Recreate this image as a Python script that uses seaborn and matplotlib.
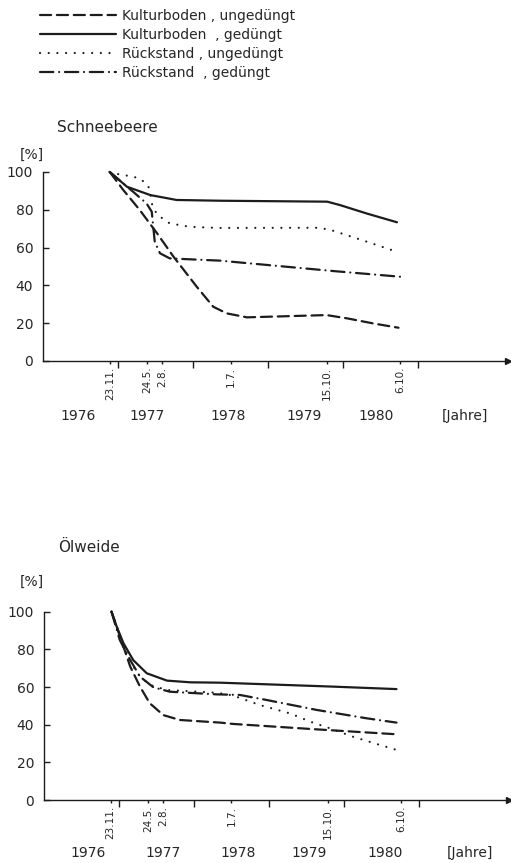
import pandas as pd
import seaborn as sns
import matplotlib.pyplot as plt

sns.set_style("ticks")
plt.rcParams['font.family'] = ['DejaVu Sans']
plt.rcParams['lines.dash_capstyle'] = 'round'

serien = ["Kulturboden , ungedüngt", "Kulturboden  , gedüngt",
          "Rückstand , ungedüngt", "Rückstand  , gedüngt"]

# Schneebeere (Jahr als Dezimalzahl, Wert in %)
sb_kb_ung_x = [1976.89, 1977.07, 1977.29, 1977.52, 1977.74, 1978.05, 1978.27, 1978.45, 1978.72, 1979.78, 1980.05, 1980.40, 1980.74]
sb_kb_ung_y = [100, 90.5, 79.9, 67.6, 55.2, 39.3, 28.7, 25.2, 23.1, 24.3, 22.6, 19.9, 17.6]
sb_kb_ged_x = [1976.89, 1977.12, 1977.43, 1977.78, 1978.36, 1979.79, 1979.96, 1980.32, 1980.72]
sb_kb_ged_y = [100, 92.2, 87.8, 85.2, 84.8, 84.3, 82.5, 78.0, 73.4]
sb_r_ung_x = [1976.89, 1977.05, 1977.16, 1977.29, 1977.40, 1977.43, 1977.46, 1977.53, 1977.69, 1977.96, 1978.34, 1979.69, 1979.87, 1980.32, 1980.74]
sb_r_ung_y = [100, 98.4, 97.9, 96.6, 93.0, 88.9, 81.6, 77.2, 72.8, 71.0, 70.4, 70.5, 68.9, 63.1, 57.5]
sb_r_ged_x = [1976.89, 1977.20, 1977.38, 1977.45, 1977.47, 1977.49, 1977.56, 1977.69, 1977.96, 1978.36, 1979.87, 1980.76]
sb_r_ged_y = [100, 89.6, 83.4, 79.0, 71.0, 63.1, 57.0, 54.3, 53.8, 53.1, 47.6, 44.6]

# Ölweide
ow_kb_ung_x = [1976.90, 1977.06, 1977.15, 1977.28, 1977.41, 1977.59, 1977.81, 1978.35, 1978.52, 1979.64, 1980.70]
ow_kb_ung_y = [100, 81.4, 70.8, 60.2, 51.4, 45.1, 42.5, 41.1, 40.4, 37.5, 34.9]
ow_kb_ged_x = [1976.90, 1976.97, 1977.06, 1977.19, 1977.37, 1977.64, 1977.95, 1978.35, 1979.86, 1980.70]
ow_kb_ged_y = [100, 92, 83.2, 74.3, 67.3, 63.4, 62.5, 62.3, 60.2, 58.9]
ow_r_ung_x = [1976.90, 1977.08, 1977.24, 1977.41, 1977.64, 1978.30, 1978.52, 1978.88, 1979.28, 1979.55, 1979.81, 1980.12, 1980.44, 1980.70]
ow_r_ung_y = [100, 79.7, 67.3, 61.1, 58.4, 57.0, 55.5, 50.4, 46.0, 41.6, 38.1, 33.6, 29.7, 26.6]
ow_r_ged_x = [1976.90, 1977.01, 1977.15, 1977.28, 1977.46, 1977.68, 1978.30, 1978.61, 1978.97, 1979.64, 1980.30, 1980.70]
ow_r_ged_y = [100, 85, 74.3, 65.5, 59.8, 57.5, 56.1, 55.8, 53.1, 47.8, 43.4, 41.1]

# Achsenbeschriftung
datum_x = [1976.89, 1977.39, 1977.585, 1978.50, 1979.79, 1980.76]
datum_lbl = ["23.11.", "24.5.", "2.8.", "1.7.", "15.10.", "6.10."]
jahr_grenzen = [1977, 1978, 1979, 1980, 1981]
jahr_lbl = ["1976", "1977", "1978", "1979", "1980", "[Jahre]"]
jahr_pos_oben = [1976.47, 1977.39, 1978.47, 1979.48, 1980.44, 1981.63]
jahr_pos_unten = [1976.59, 1977.59, 1978.59, 1979.53, 1980.55, 1981.68]

ink = '#1c1c1c'
dash_map = {serien[0]: (5, 2.6), serien[1]: "", serien[2]: (0.01, 3.9), serien[3]: (6, 2.6, 0.01, 2.6)}


def make_df(kurven):
    rows = []
    for name, (xs, ys) in zip(serien, kurven):
        for x, y in zip(xs, ys):
            rows.append({'jahr': x, 'wert': y, 'serie': name})
    return pd.DataFrame(rows)


df_sb = make_df([(sb_kb_ung_x, sb_kb_ung_y), (sb_kb_ged_x, sb_kb_ged_y),
                 (sb_r_ung_x, sb_r_ung_y), (sb_r_ged_x, sb_r_ged_y)])
df_ow = make_df([(ow_kb_ung_x, ow_kb_ung_y), (ow_kb_ged_x, ow_kb_ged_y),
                 (ow_r_ung_x, ow_r_ung_y), (ow_r_ged_x, ow_r_ged_y)])

fig = plt.figure(figsize=(5.11, 8.63), dpi=100)
ax1 = fig.add_axes([43 / 511, 1 - 361 / 863, 465 / 511, 189 / 863])
ax2 = fig.add_axes([44 / 511, 1 - 800 / 863, 465 / 511, 188.3 / 863])


def panel(ax, df, jahr_pos, y_lbl):
    sns.lineplot(data=df, x='jahr', y='wert', style='serie', style_order=serien,
                 dashes=dash_map, color=ink, lw=1.6, sort=False, estimator=None, ax=ax)
    for ln in ax.lines:
        ln.set_clip_on(False)
    ax.set_xlim(1976.0, 1982.2)
    ax.set_ylim(0, 100)
    ax.set_yticks(range(0, 101, 20))
    ax.set_xticks(jahr_grenzen)
    ax.set_xticklabels([])
    ax.set_xticks(datum_x, minor=True)
    ax.set_xticklabels(datum_lbl, minor=True, rotation=90, fontsize=7.5)
    ax.tick_params(axis='x', which='major', direction='out', length=5, width=1, color=ink)
    ax.tick_params(axis='x', which='minor', direction='out', length=2.5, width=1, pad=1.5, color=ink)
    ax.tick_params(axis='y', direction='in', length=4, width=1, pad=7, labelsize=10, color=ink)
    ax.set_xlabel('')
    ax.set_ylabel('')
    sns.despine(ax=ax)
    for s in ['left', 'bottom']:
        ax.spines[s].set_color(ink)
        ax.spines[s].set_linewidth(1)
    ax.plot([1], [0], marker='>', ms=5, color=ink, transform=ax.transAxes, clip_on=False)
    for x, t in zip(jahr_pos, jahr_lbl):
        ax.text(x, y_lbl, t, transform=ax.get_xaxis_transform(), ha='center', va='center', fontsize=10)


panel(ax1, df_sb, jahr_pos_oben, -0.291)
handles, labels = ax1.get_legend_handles_labels()
panel(ax2, df_ow, jahr_pos_unten, -0.281)
for ax in (ax1, ax2):
    if ax.get_legend() is not None:
        ax.get_legend().remove()

fig.legend(handles, labels, loc='upper left', bbox_to_anchor=(40 / 511, 1 - 9 / 863),
           frameon=False, handlelength=5.5, handletextpad=0.4, labelspacing=0.35,
           fontsize=10, borderpad=0, borderaxespad=0)

fig.text(57 / 511, 1 - 127 / 863, "Schneebeere", fontsize=11, va='center', ha='left')
fig.text(20 / 511, 1 - 155 / 863, "[%]", fontsize=10, va='center', ha='left')
fig.text(58 / 511, 1 - 547 / 863, "Ölweide", fontsize=11, va='center', ha='left')
fig.text(20 / 511, 1 - 582 / 863, "[%]", fontsize=10, va='center', ha='left')

fig.savefig('out.png', dpi=100)
